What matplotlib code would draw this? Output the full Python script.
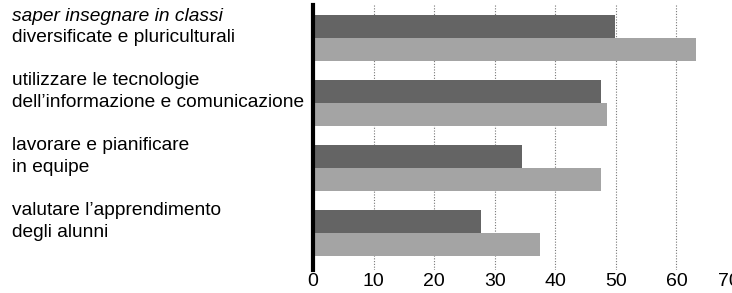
import numpy as np
import matplotlib
matplotlib.use("Agg")
import matplotlib.pyplot as plt
from matplotlib.transforms import blended_transform_factory, ScaledTranslation

plt.rcParams["font.family"] = ["Liberation Sans", "DejaVu Sans"]

# categories (top to bottom), two lines each
LINE1 = ["saper insegnare in classi", "utilizzare le tecnologie",
         "lavorare e pianificare", "valutare l\u2019apprendimento"]
LINE2 = ["diversificate e pluriculturali", "dell\u2019informazione e comunicazione",
         "in equipe", "degli alunni"]
dark_vals  = [49.8, 47.6, 34.5, 27.7]
light_vals = [63.3, 48.5, 47.5, 37.4]
xticks = [0, 10, 20, 30, 40, 50, 60, 70]

fig = plt.figure(figsize=(7.32, 2.93), dpi=100, facecolor="white")
ax = fig.add_axes([313 / 732, 1 - 270 / 293, 424 / 732, 265 / 293])

y = np.arange(len(LINE1))
H = 0.355
ax.barh(y - H / 2, dark_vals, height=H, color="#646464", zorder=2)
ax.barh(y + H / 2, light_vals, height=H, color="#a4a4a4", zorder=2)

ax.set_xlim(0, 70)
ax.set_ylim(3.57, -0.51)
for gx in xticks[1:-1]:
    ax.axvline(gx, color="#777777", linewidth=0.8, linestyle=(0, (1, 1.5)), zorder=1)

for s in ("top", "right", "bottom"):
    ax.spines[s].set_visible(False)
ax.spines["left"].set_linewidth(3)
ax.spines["left"].set_color("black")
ax.set_yticks([])
ax.set_xticks(xticks)
ax.tick_params(axis="x", length=0, labelsize=14, pad=2)
# last label sits at the page edge; nudge it in a little like the original
last = ax.get_xticklabels()[-1]
last.set_transform(last.get_transform() + ScaledTranslation(-0.08, 0, fig.dpi_scale_trans))

tr = blended_transform_factory(fig.transFigure, ax.transData)
for i in range(len(LINE1)):
    ax.text(12 / 732, i - 0.34, LINE1[i], transform=tr, ha="left", va="center",
            fontsize=13.8, style="italic" if i == 0 else "normal", clip_on=False)
    ax.text(12 / 732, i - 0.01, LINE2[i], transform=tr, ha="left", va="center",
            fontsize=13.8, clip_on=False)

fig.savefig("out.png", dpi=100, facecolor="white")
